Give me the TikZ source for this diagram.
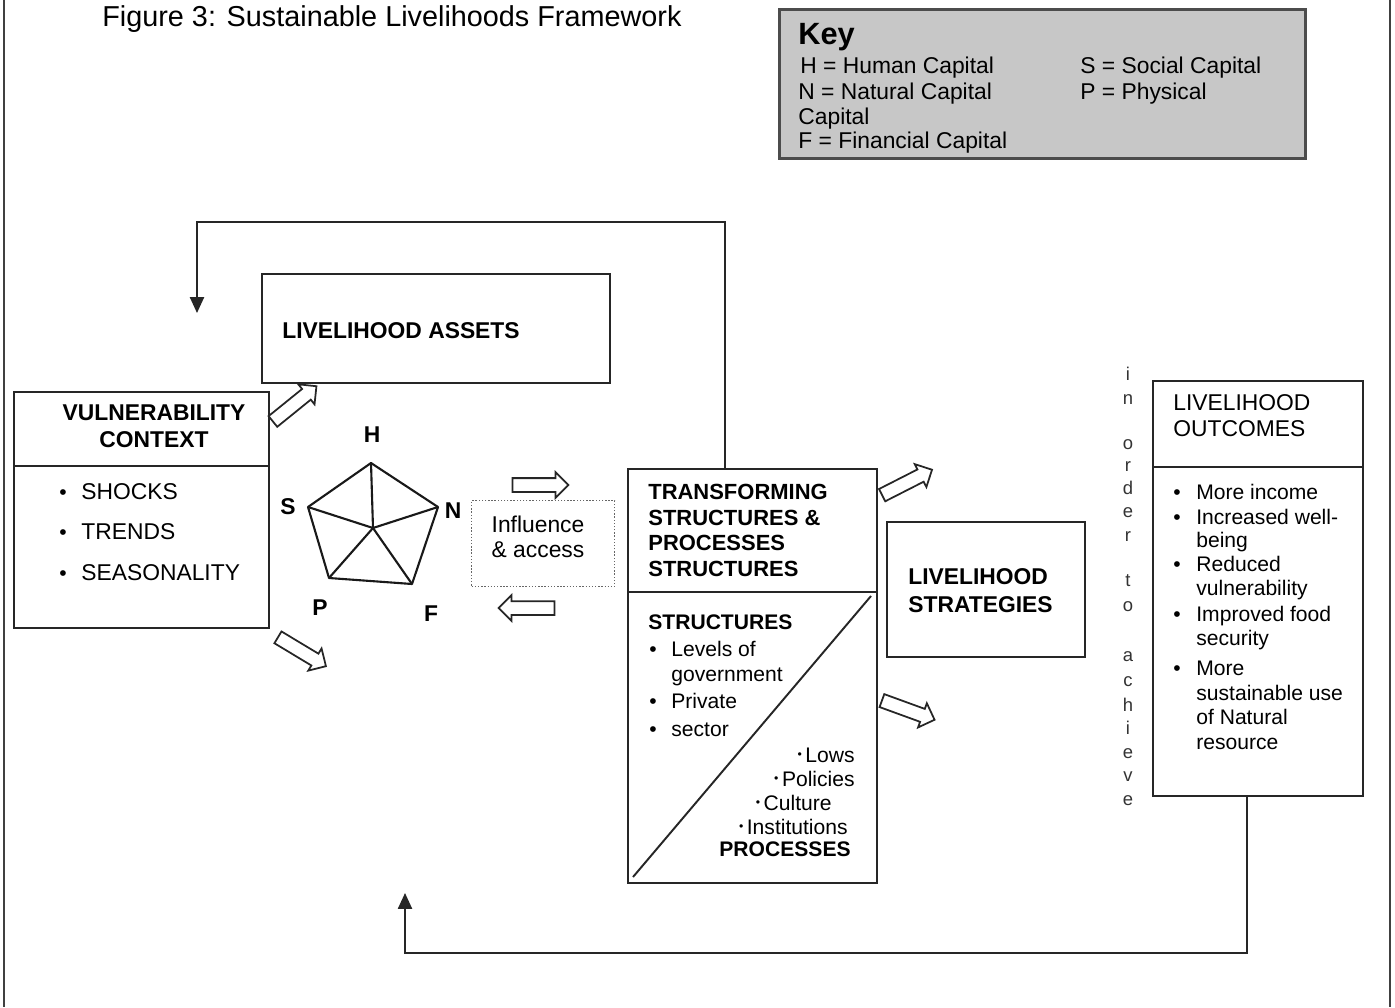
\documentclass[tikz,border=0pt]{standalone}
\usepackage{fontspec}
\setmainfont{Liberation Sans}
\usetikzlibrary{shapes.arrows,arrows.meta,calc}
\newdimen\px \px=0.02cm
\tikzset{
  box/.style = {draw=black!85, line width=1.1pt, anchor=north west, inner sep=0pt},
  ln/.style = {inner sep=0pt, anchor=west, text height=1.5ex, text depth=.25ex, yshift=-1.4pt},
  hd/.style = {ln, font=\fontsize{13}{15}\selectfont\bfseries},
  hd_s/.style = {ln, font=\fontsize{12.5}{15}\selectfont\bfseries},
  bd/.style = {ln, font=\fontsize{12}{14}\selectfont},
  bd_l/.style = {ln, font=\fontsize{13}{15}\selectfont},
  hollow/.style = {single arrow, draw=black!85, line width=1pt, fill=white,
    minimum height=56\px, inner xsep=0pt, inner ysep=6\px,
    single arrow head extend=6\px},
  fb/.style = {draw=black!85, line width=1pt, -{Triangle[length=9pt,width=8pt]}},
  pent/.style = {draw=black!90, line width=1.2pt, line join=round}
}
\newcommand{\sbul}{{\scriptsize\raisebox{.6ex}{\textbullet}}\,}

\begin{document}
\begin{tikzpicture}[x=0.02cm, y=-0.02cm]
\useasboundingbox (0,0) rectangle (1395,1007);
% page frame
\draw[black!75, line width=0.9pt] (4,0) -- (4,1007);
\draw[black!75, line width=0.9pt] (1390,0) -- (1390,1007);

\node[ln, font=\fontsize{16.4}{18}\selectfont] (title) at (102,18) {Figure 3: Sustainable Livelihoods Framework};

% key
\node[box, draw=black!70, line width=1.7pt, fill=black!22, minimum width=526\px, minimum height=149\px] (key) at (778,8) {};
\node[ln, font=\fontsize{17.5}{19}\selectfont\bfseries] (keyt) at (798,36) {Key};
\node[bd_l] (kh) at (800,65) {H = Human Capital};
\node[bd_l] (ks) at (1080,65) {S = Social Capital};
\node[bd_l] (kn) at (798,91) {N = Natural Capital};
\node[bd_l] (kp) at (1080,91) {P = Physical};
\node[bd_l] (kc) at (798,116) {Capital};
\node[bd_l] (kf) at (798,140) {F = Financial Capital};

% livelihood assets
\node[box, minimum width=348\px, minimum height=109\px] (assets) at (261,273) {};
\node[hd] (assetst) at (282,330) {LIVELIHOOD ASSETS};

% vulnerability context
\node[box, minimum width=255\px, minimum height=236\px] (vuln) at (13,391) {};
\draw[black!85, line width=1pt] (vuln.west |- 0,466) -- (vuln.east |- 0,466);
\node[hd, anchor=center] (vt1) at (154,412) {VULNERABILITY};
\node[hd, anchor=center] (vt2) at (154,439) {CONTEXT};
\foreach \t/\y in {SHOCKS/491, TRENDS/531, SEASONALITY/572}{
  \node[bd, anchor=center] (vb\y) at (63,\y) {\textbullet};
  \node[bd_l] (vl\y) at (81,\y) {\t};
}

% asset pentagon
\coordinate (H) at (371,463);
\coordinate (N) at (438,507);
\coordinate (F) at (412,584);
\coordinate (P) at (329,578);
\coordinate (S) at (308,507);
\coordinate (C) at (373,528);
\draw[pent] (H) -- (N) -- (F) -- (P) -- (S) -- cycle;
\foreach \v in {H,N,F,P,S} \draw[pent] (C) -- (\v);
\node[hd, anchor=center] (lh) at (372,434) {H};
\node[hd, anchor=center] (ls) at (288,506) {S};
\node[hd, anchor=center] (lnn) at (453,510) {N};
\node[hd, anchor=center] (lp) at (320,607) {P};
\node[hd, anchor=center] (lf) at (431,613) {F};

% influence & access
\node[box, draw=black!60, line width=0.8pt, densely dotted, minimum width=143\px, minimum height=86\px] (infl) at (471,500) {};
\node[bd_l, anchor=center] (inf1) at (538,524) {Influence};
\node[bd_l, anchor=center] (inf2) at (538,549) {\& access};

% transforming structures
\node[box, minimum width=249\px, minimum height=414\px] (trans) at (627,468) {};
\draw[black!85, line width=1pt] (trans.west |- 0,592) -- (trans.east |- 0,592);
\draw[black!85, line width=1.1pt] (633,877) -- (871,596);
\foreach \t/\y in {TRANSFORMING/491, STRUCTURES \&/517, PROCESSES/542, STRUCTURES/568}
  \node[hd_s] (tt\y) at (648,\y) {\t};
\node[ln, font=\fontsize{12}{14}\selectfont\bfseries] (tstr) at (648,621) {STRUCTURES};
\foreach \y in {648,700,728} \node[bd, anchor=center] (tb\y) at (653,\y) {\textbullet};
\foreach \t/\y in {Levels of/648, government/673, Private/700, sector/728}
  \node[bd] (tl\y) at (671,\y) {\t};
\foreach \t/\x/\y in {Lows/855/754, Policies/855/778, Culture/832/802, Institutions/848/826}
  \node[bd, anchor=east] (tp\y) at (\x,\y) {\sbul\t};
\node[ln, anchor=east, font=\fontsize{12}{14}\selectfont\bfseries] (tproc) at (851,848) {PROCESSES};

% livelihood strategies
\node[box, minimum width=198\px, minimum height=135\px] (strat) at (886,521) {};
\node[hd] (st1) at (908,576) {LIVELIHOOD};
\node[hd] (st2) at (908,604) {STRATEGIES};

% in order to achieve
\foreach \c/\y in {i/372,n/396,o/441,r/463,d/486,e/509,r/533,t/578,o/603,a/653,c/678,h/703,i/726,e/750,v/773,e/797}
  \node[ln, anchor=center, font=\fontsize{10.5}{12}\selectfont, text=black!80] (ach\y) at (1128,\y) {\c};

% livelihood outcomes
\node[box, minimum width=210\px, minimum height=415\px] (outc) at (1152,380) {};
\draw[black!85, line width=1pt] (outc.west |- 0,467) -- (outc.east |- 0,467);
\node[bd_l] (ot1) at (1173,402) {LIVELIHOOD};
\node[bd_l] (ot2) at (1173,428) {OUTCOMES};
\foreach \y in {491,516,563,613,667} \node[bd, anchor=center] (ob\y) at (1177,\y) {\textbullet};
\foreach \t/\y in {More income/491, Increased well-/516, being/539, Reduced/563, vulnerability/587,
  Improved food/613, security/637, More/667, sustainable use/692, of Natural/716, resource/741}
  \node[bd] (ol\y) at (1196,\y) {\t};

% hollow arrows
\node[hollow, rotate=39] (a1) at (292,406) {};
\node[hollow, rotate=-31] (a2) at (299,650) {};
\node[hollow] (a3) at (537,485) {};
\node[hollow, rotate=180] (a4) at (530,608) {};
\node[hollow, rotate=27] (a5) at (904,484) {};
\node[hollow, rotate=-20] (a6) at (905,709) {};

% feedback loops
\coordinate (fbtop) at (197,313);
\coordinate (fbbot) at (405,893);
\draw[fb] (725,0 |- trans.north) |- (197,222) -- (fbtop);
\draw[fb] (1247,0 |- outc.south) |- (405,953) -- (fbbot);
\end{tikzpicture}
\end{document}
